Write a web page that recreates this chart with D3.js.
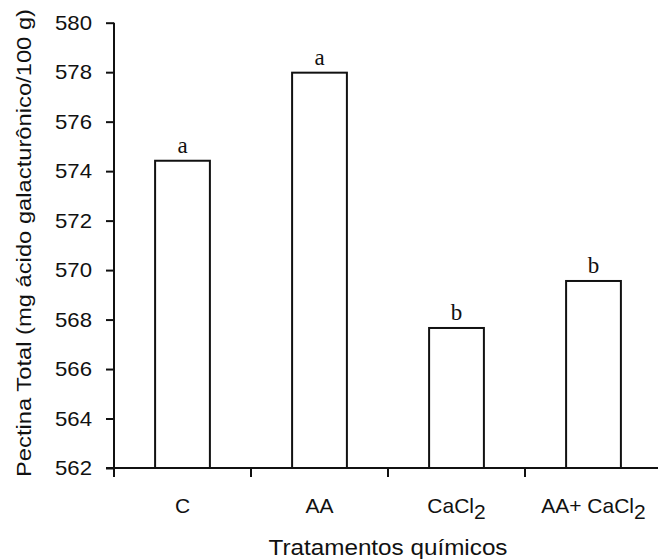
<!DOCTYPE html>
<html>
<head>
<meta charset="utf-8">
<script src="https://cdn.jsdelivr.net/npm/d3@7"></script>
<style>
  body { margin: 0; background: #fff; }
  svg text { fill: #111; }
</style>
</head>
<body>
<div id="chart"></div>
<script>
// data
var categories = ['C', 'AA', 'CaCl2', 'AA+ CaCl2'];
var values = [574.42, 577.98, 567.66, 569.56];
var letters = ['a', 'a', 'b', 'b'];
var yTicks = [562, 564, 566, 568, 570, 572, 574, 576, 578, 580];

var width = 658, height = 559;
var plotLeft = 114, plotRight = 662, plotTop = 22.7, plotBottom = 468;

var svg = d3.select('#chart')
  .append('svg')
  .attr('width', width)
  .attr('height', height)
  .style('font-family', '"Liberation Sans", Arial, sans-serif');

var x = d3.scaleBand()
  .domain(categories)
  .range([plotLeft, plotRight])
  .paddingInner(0.6)
  .paddingOuter(0.3);

var y = d3.scaleLinear()
  .domain([562, 580])
  .range([plotBottom, plotTop]);

// bars
svg.selectAll('.bar')
  .data(values)
  .enter()
  .append('rect')
  .attr('class', 'bar')
  .attr('x', function(d, i) { return x(categories[i]); })
  .attr('y', function(d) { return y(d); })
  .attr('width', x.bandwidth())
  .attr('height', function(d) { return y(562) - y(d); })
  .attr('fill', '#fff')
  .attr('stroke', '#111')
  .attr('stroke-width', 2);

// significance letters
svg.selectAll('.letter')
  .data(letters)
  .enter()
  .append('text')
  .attr('class', 'letter')
  .attr('x', function(d, i) { return x(categories[i]) + x.bandwidth() / 2; })
  .attr('y', function(d, i) { return y(values[i]) - 8; })
  .attr('text-anchor', 'middle')
  .style('font-family', '"Liberation Serif", "Times New Roman", serif')
  .style('font-size', '23px')
  .text(function(d) { return d; });

// y axis
var yAxis = svg.append('g')
  .attr('transform', 'translate(' + plotLeft + ',0)')
  .call(d3.axisLeft(y).tickValues(yTicks).tickSize(8).tickPadding(14).tickFormat(d3.format('d')));

yAxis.select('.domain').remove();
yAxis.append('line')
  .attr('x1', 0).attr('x2', 0)
  .attr('y1', plotTop).attr('y2', plotBottom + 9)
  .attr('stroke', '#111').attr('stroke-width', 2);
yAxis.selectAll('.tick line').attr('stroke', '#111').attr('stroke-width', 2);
yAxis.selectAll('.tick text')
  .style('font-size', '21px')
  .style('font-family', '"Liberation Sans", Arial, sans-serif')
  .attr('textLength', 37)
  .attr('lengthAdjust', 'spacingAndGlyphs')
  .attr('fill', '#111');

// x axis: line with ticks between the bands
var gx = svg.append('g');
gx.append('line')
  .attr('x1', plotLeft - 8).attr('x2', width)
  .attr('y1', plotBottom).attr('y2', plotBottom)
  .attr('stroke', '#111').attr('stroke-width', 2);

var gap = (x.step() - x.bandwidth()) / 2;
gx.selectAll('.xtick')
  .data(categories.slice(1))
  .enter()
  .append('line')
  .attr('class', 'xtick')
  .attr('x1', function(d) { return x(d) - gap; })
  .attr('x2', function(d) { return x(d) - gap; })
  .attr('y1', plotBottom).attr('y2', plotBottom + 9)
  .attr('stroke', '#111').attr('stroke-width', 2);

// category labels, with subscripted 2
var lab = gx.selectAll('.xlabel')
  .data(categories)
  .enter()
  .append('text')
  .attr('class', 'xlabel')
  .attr('x', function(d) { return x(d) + x.bandwidth() / 2; })
  .attr('y', plotBottom + 45)
  .attr('text-anchor', 'middle')
  .style('font-size', '21px');

lab.each(function(d) {
  var t = d3.select(this);
  if (d.slice(-1) === '2') {
    t.append('tspan').text(d.slice(0, -1));
    t.append('tspan').attr('dy', 6).text('2');
  } else {
    t.text(d);
  }
});

// axis titles
svg.append('text')
  .attr('x', (plotLeft + plotRight) / 2)
  .attr('y', 555)
  .attr('text-anchor', 'middle')
  .attr('textLength', 239)
  .attr('lengthAdjust', 'spacingAndGlyphs')
  .style('font-size', '22px')
  .text('Tratamentos químicos');

svg.append('text')
  .attr('transform', 'translate(31,243) rotate(-90)')
  .attr('text-anchor', 'middle')
  .attr('textLength', 468)
  .attr('lengthAdjust', 'spacingAndGlyphs')
  .style('font-size', '21px')
  .text('Pectina Total (mg ácido galacturônico/100 g)');
</script>
</body>
</html>
